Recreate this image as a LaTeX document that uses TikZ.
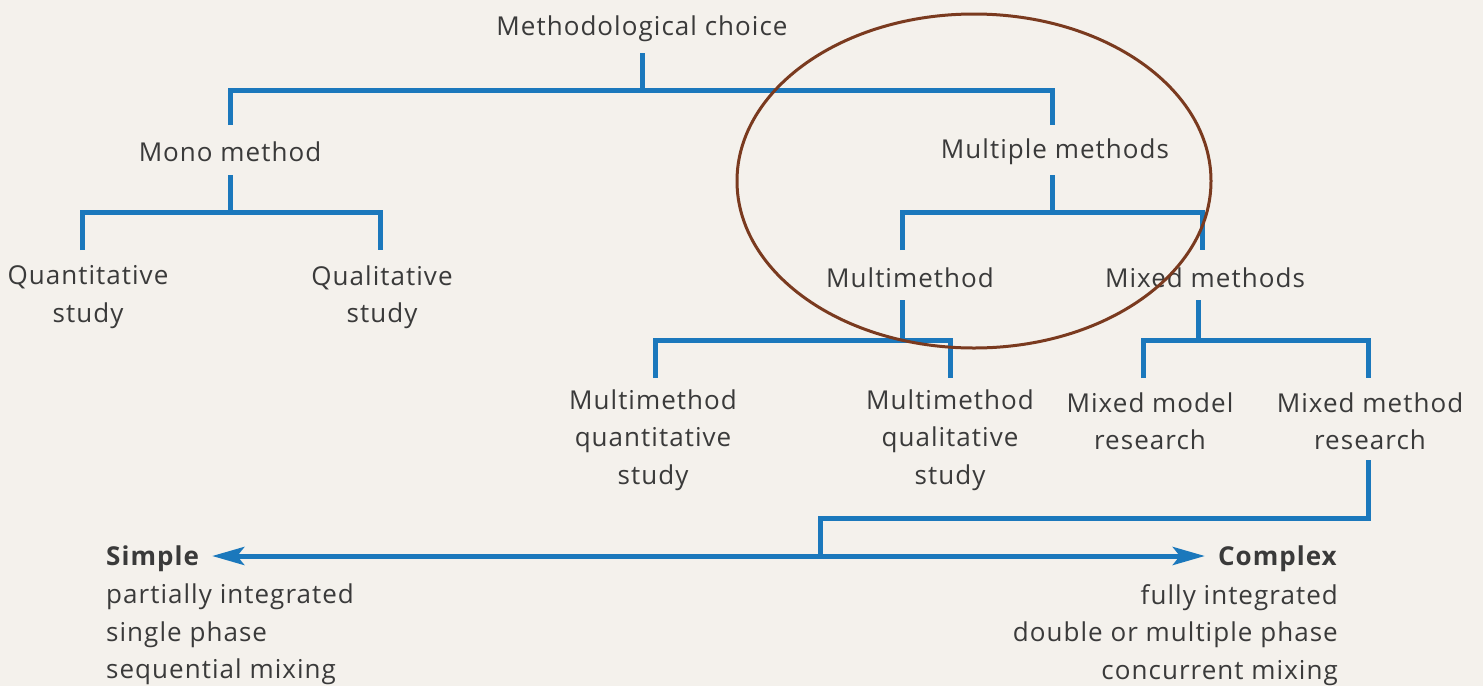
\documentclass[tikz,border=0pt]{standalone}
\usepackage{fontspec}
\setmainfont{Open Sans}[LetterSpace=4]
\usetikzlibrary{arrows.meta}
\definecolor{paper}{HTML}{F4F1EC}
\definecolor{branchblue}{HTML}{1B78BC}
\definecolor{inkgrey}{HTML}{3A3A3A}
\definecolor{ringbrown}{HTML}{7A3A1F}
\begin{document}
\begin{tikzpicture}[x=1pt,y=-1pt,
  label/.style={text=inkgrey,font=\fontsize{26}{37.5}\selectfont,inner sep=0pt,align=center},
  branch/.style={draw=branchblue,line width=5pt},
  spread/.style={branch,{Stealth[length=32pt,width=18pt,inset=7pt]}-{Stealth[length=32pt,width=18pt,inset=7pt]}},
  ring/.style={draw=ringbrown,line width=3pt}]
  \fill[paper] (0,0) rectangle (1483,686);
  \useasboundingbox (0,0) rectangle (1483,686);

  % level 0 and 1
  \node[label] (mc) at (642,29) {Methodological choice};
  \node[label] (mono) at (230,152) {Mono method};
  \node[label] (multi) at (1055,152) {Multiple methods};

  % level 2
  \node[label] (quant) at (88,297) {Quantitative\\study};
  \node[label] (qual) at (382,297) {Qualitative\\study};
  \node[label] (mm) at (910,278) {Multimethod};
  \node[label] (mx) at (1205,278) {Mixed methods};

  % level 3
  \node[label] (mmquant) at (653,440) {Multimethod\\quantitative\\study};
  \node[label] (mmqual) at (950,440) {Multimethod\\qualitative\\study};
  \node[label] (mxmodel) at (1150,421) {Mixed model\\research};
  \node[label] (mxmethod) at (1370,421) {Mixed method\\research};

  % junctions
  \coordinate (j0) at (642,90);
  \coordinate (j1) at (230,212);
  \coordinate (j2) at (1052,212);
  \coordinate (j3) at (902,340);
  \coordinate (j4) at (1198,340);
  \coordinate (j5) at (820,518);
  \coordinate (jarrow) at (820,555);

  % shifts are in page points: positive = up, negative = down
  \draw[branch] ([yshift=-24]mc.center) -- (j0);
  \draw[branch] ([yshift=27]mono.center) |- (j0) -| ([xshift=-3,yshift=27]multi.center);

  \draw[branch] ([yshift=-23]mono.center) -- (j1);
  \draw[branch] ([xshift=-6,yshift=47]quant.center) |- (j1) -| ([xshift=-2,yshift=47]qual.center);

  \draw[branch] ([xshift=-3,yshift=-23]multi.center) -- (j2);
  \draw[branch] ([xshift=-8,yshift=28]mm.center) |- (j2) -| ([xshift=-3,yshift=28]mx.center);

  \draw[branch] ([xshift=-8,yshift=-22]mm.center) -- (j3);
  \draw[branch] ([xshift=2,yshift=62]mmquant.center) |- (j3) -| ([yshift=62]mmqual.center);

  \draw[branch] ([xshift=-7,yshift=-22]mx.center) -- (j4);
  \draw[branch] ([xshift=-7,yshift=43]mxmodel.center) |- (j4) -| ([xshift=-2,yshift=43]mxmethod.center);

  % continuum of mixed method research
  \draw[branch] ([xshift=-2,yshift=-39]mxmethod.center) |- (j5) -- (jarrow);

  \node[label,anchor=west,align=left] (simple) at (106,559) {\textbf{Simple}};
  \node[label,anchor=east,align=right] (complex) at (1338,559) {\textbf{Complex}};
  \node[label,anchor=north west,align=left] (simpletxt) at (106,584)
    {partially integrated\\single phase\\sequential mixing};
  \node[label,anchor=north east,align=right] (complextxt) at (1338,584)
    {fully integrated\\double or multiple phase\\concurrent mixing};

  \draw[spread] ([xshift=12,yshift=3]simple.east) -- ([xshift=-13,yshift=3]complex.west);

  % highlight around the multiple-methods branch
  \draw[ring] (974,181) ellipse [x radius=237, y radius=167];
\end{tikzpicture}
\end{document}
